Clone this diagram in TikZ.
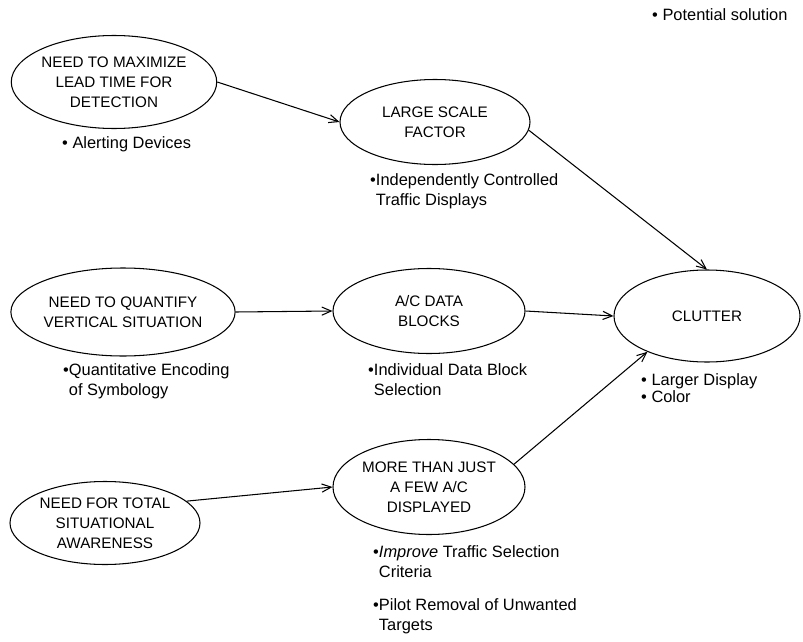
\documentclass[tikz,border=0pt]{standalone}
\usepackage{fontspec}
\setmainfont{Liberation Sans}
\usetikzlibrary{shapes.geometric,arrows.meta}

\tikzset{
  issue/.style={draw, ellipse, line width=0.9pt, inner sep=0pt, align=center,
    font=\fontsize{13pt}{17pt}\selectfont},
  fix/.style={anchor=base west, inner sep=0pt, align=left,
    font=\fontsize{14pt}{17pt}\selectfont},
  flow/.style={line width=0.9pt, -{Straight Barb[length=8pt,width=7pt]}}
}

\begin{document}
\begin{tikzpicture}[x=0.03cm, y=-0.03cm]
  \useasboundingbox (0,0) rectangle (803,642);

  % Problems and causes
  \node[issue, minimum width=5.88cm, minimum height=2.79cm] (lead) at (114,82)
    {NEED TO MAXIMIZE\\LEAD TIME FOR\\DETECTION};
  \node[issue, minimum width=5.7cm, minimum height=2.55cm] (scale) at (435,122)
    {LARGE SCALE\\FACTOR};
  \node[issue, minimum width=5.7cm, minimum height=2.64cm] (quantify) at (123,312)
    {NEED TO QUANTIFY\\VERTICAL SITUATION};
  \node[issue, minimum width=5.76cm, minimum height=2.55cm] (blocks) at (429,311)
    {A/C DATA\\BLOCKS};
  \node[issue, minimum width=5.58cm, minimum height=2.76cm] (clutter) at (707,316)
    {CLUTTER};
  \node[issue, minimum width=5.7cm, minimum height=2.49cm] (aware) at (105,523)
    {NEED FOR TOTAL\\SITUATIONAL\\AWARENESS};
  \node[issue, minimum width=5.76cm, minimum height=2.85cm] (few) at (429,487)
    {MORE THAN JUST\\A FEW A/C\\DISPLAYED};

  % Potential solutions (placed at the baseline of their last line)
  \node[fix] (key) at (652,20) {\textbullet\ Potential solution};
  \node[fix] (alert) at (62,148) {\textbullet\ Alerting Devices};
  \node[fix] (indep) at (370,205)
    {\textbullet Independently Controlled\\\phantom{\textbullet}Traffic Displays};
  \node[fix] (encode) at (63,395)
    {\textbullet Quantitative Encoding\\\phantom{\textbullet}of Symbology};
  \node[fix] (select) at (368,395)
    {\textbullet Individual Data Block\\\phantom{\textbullet}Selection};
  \node[fix, font=\fontsize{14pt}{14.5pt}\selectfont] (larger) at (641,402)
    {\textbullet\ Larger Display\\\textbullet\ Color};
  \node[fix] (criteria) at (373,577)
    {\textbullet\textit{Improve} Traffic Selection\\\phantom{\textbullet}Criteria};
  \node[fix] (removal) at (373,630)
    {\textbullet Pilot Removal of Unwanted\\\phantom{\textbullet}Targets};

  % Connectors
  \draw[flow] (lead.east) -- (scale.west);
  \draw[flow] (scale.-5) -- (clutter.north);
  \draw[flow] (quantify.east) -- (blocks.west);
  \draw[flow] (blocks.east) -- (clutter.west);
  \draw[flow] (aware.15) -- (few.west);
  \draw[flow] (few.15) -- (clutter.211);
\end{tikzpicture}
\end{document}
